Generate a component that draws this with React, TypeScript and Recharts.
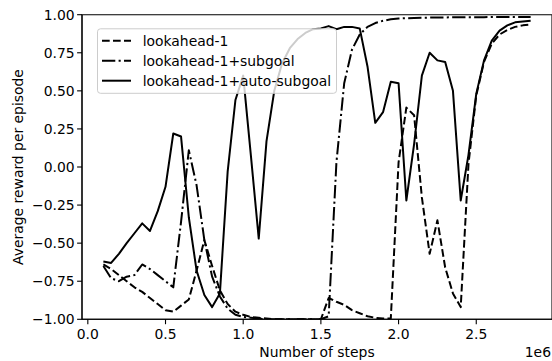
import React from 'react';
import { LineChart, Line, XAxis, YAxis, ReferenceArea } from 'recharts';

const steps = [
  0.10, 0.15, 0.20, 0.25, 0.30, 0.35, 0.40, 0.45, 0.50, 0.55,
  0.60, 0.65, 0.70, 0.75, 0.80, 0.85, 0.90, 0.95, 1.00, 1.05,
  1.10, 1.15, 1.20, 1.25, 1.30, 1.35, 1.40, 1.45, 1.50, 1.55,
  1.60, 1.65, 1.70, 1.75, 1.80, 1.85, 1.90, 1.95, 2.00, 2.05,
  2.10, 2.15, 2.20, 2.25, 2.30, 2.35, 2.40, 2.45, 2.50, 2.55,
  2.60, 2.65, 2.70, 2.75, 2.80, 2.85,
];

const lookahead = [
  -0.64, -0.67, -0.71, -0.75, -0.79, -0.82, -0.86, -0.90, -0.94, -0.95,
  -0.91, -0.87, -0.68, -0.48, -0.65, -0.81, -0.90, -0.95, -0.97, -0.985,
  -0.99, -0.995, -1.0, -1.0, -1.0, -1.0, -1.0, -1.0, -1.0, -0.86,
  -0.885, -0.905, -0.94, -0.96, -0.98, -0.99, -0.995, -0.995, 0.03, 0.39,
  0.34, -0.2, -0.57, -0.35, -0.66, -0.83, -0.92, 0.02, 0.47, 0.69,
  0.81, 0.87, 0.90, 0.92, 0.93, 0.935,
];

const subgoal = [
  -0.65, -0.73, -0.75, -0.72, -0.71, -0.64, -0.67, -0.71, -0.75, -0.79,
  -0.36, 0.11, -0.12, -0.48, -0.72, -0.85, -0.93, -0.97, -0.985, -0.99,
  -0.995, -1.0, -1.0, -1.0, -1.0, -1.0, -1.0, -1.0, -1.0, -0.98,
  0.03, 0.55, 0.77, 0.87, 0.92, 0.945, 0.96, 0.97, 0.975, 0.977,
  0.979, 0.98, 0.981, 0.982, 0.982, 0.983, 0.983, 0.984, 0.984, 0.984,
  0.985, 0.985, 0.985, 0.985, 0.985, 0.985,
];

const autoSubgoal = [
  -0.62, -0.63, -0.57, -0.50, -0.435, -0.37, -0.42, -0.29, -0.13, 0.22,
  0.20, -0.33, -0.68, -0.84, -0.92, -0.83, -0.03, 0.44, 0.60, 0.07,
  -0.47, 0.17, 0.50, 0.68, 0.78, 0.84, 0.88, 0.905, 0.91, 0.925,
  0.905, 0.92, 0.92, 0.91, 0.66, 0.29, 0.36, 0.56, 0.55, -0.22,
  0.15, 0.60, 0.75, 0.70, 0.69, 0.50, -0.22, 0.08, 0.48, 0.70,
  0.83, 0.895, 0.93, 0.95, 0.955, 0.96,
];

const seriesNames = ['lookahead-1', 'lookahead-1+subgoal', 'lookahead-1+auto-subgoal'];
const xTicks = [0, 0.5, 1.0, 1.5, 2.0, 2.5];
const yTicks = [-1, -0.75, -0.5, -0.25, 0, 0.25, 0.5, 0.75, 1];
const xLabel = 'Number of steps';
const yLabel = 'Average reward per episode';
const offsetLabel = '1e6';

const data = steps.map((s, i) => ({
  step: s,
  a: lookahead[i],
  b: subgoal[i],
  c: autoSubgoal[i],
}));

const FONT = '"DejaVu Sans", sans-serif';
const FS = 13.9;
const DASH = '7.7 3.3';
const DASHDOT = '13.3 3.3 2.1 3.3';

const fmtY = (v: number) => {
  const s = Math.abs(v).toFixed(2);
  return v < 0 ? '\u2212' + s : s;
};
const fmtX = (v: number) => v.toFixed(1);

const dashes = [DASH, DASHDOT, undefined];

export default function App() {
  return (
    <div style={{ position: 'absolute', left: 0, top: 0, width: 552, height: 361, background: '#fff' }}>
      <LineChart
        width={552}
        height={361}
        data={data}
        margin={{ top: 14.7, right: 0, left: 0, bottom: 0 }}
      >
        <XAxis
          dataKey="step"
          type="number"
          domain={[-0.0375, 2.9875]}
          ticks={xTicks}
          interval={0}
          tickFormatter={fmtX}
          height={41.7}
          tickSize={4.9}
          tickMargin={5}
          axisLine={{ stroke: '#000', strokeWidth: 1.1 }}
          tickLine={{ stroke: '#000', strokeWidth: 1.1 }}
          tick={{ fill: '#000', fontSize: FS, fontFamily: FONT }}
          allowDataOverflow
        />
        <YAxis
          type="number"
          domain={[-1, 1]}
          ticks={yTicks}
          interval={0}
          tickFormatter={fmtY}
          width={82}
          tickSize={4.9}
          tickMargin={2.5}
          axisLine={{ stroke: '#000', strokeWidth: 1.1 }}
          tickLine={{ stroke: '#000', strokeWidth: 1.1 }}
          tick={{ fill: '#000', fontSize: FS, fontFamily: FONT }}
          allowDataOverflow
        />
        <ReferenceArea
          x1={-0.0375}
          x2={2.9875}
          y1={-1}
          y2={1}
          fill="none"
          fillOpacity={0}
          stroke="#000"
          strokeWidth={1.1}
          ifOverflow="visible"
        />
        <Line
          dataKey="a"
          stroke="#000"
          strokeWidth={2}
          strokeDasharray={DASH}
          dot={false}
          isAnimationActive={false}
          strokeLinejoin="round"
        />
        <Line
          dataKey="b"
          stroke="#000"
          strokeWidth={2}
          strokeDasharray={DASHDOT}
          dot={false}
          isAnimationActive={false}
          strokeLinejoin="round"
        />
        <Line
          dataKey="c"
          stroke="#000"
          strokeWidth={2}
          dot={false}
          isAnimationActive={false}
          strokeLinejoin="round"
        />
      </LineChart>
      <svg
        width={552}
        height={361}
        style={{ position: 'absolute', left: 0, top: 0, pointerEvents: 'none' }}
      >
        <rect
          x={97.5}
          y={28.8}
          width={239}
          height={64.5}
          rx={3}
          ry={3}
          fill="#fff"
          fillOpacity={0.8}
          stroke="#ccc"
          strokeWidth={1}
        />
        {seriesNames.map((name, i) => {
          const y = 40.7 + i * 20;
          return (
            <g key={name}>
              <line
                x1={102}
                x2={131}
                y1={y}
                y2={y}
                stroke="#000"
                strokeWidth={2}
                strokeDasharray={dashes[i]}
              />
              <text
                x={142.7}
                y={y + 5}
                fontFamily={FONT}
                fontSize={FS}
                fill="#000"
              >
                {name}
              </text>
            </g>
          );
        })}
        <text x={317} y={357} textAnchor="middle" fontFamily={FONT} fontSize={FS} fill="#000">
          {xLabel}
        </text>
        <text x={551} y={356.5} textAnchor="end" fontFamily={FONT} fontSize={FS} fill="#000">
          {offsetLabel}
        </text>
        <text
          x={0}
          y={0}
          transform="translate(22.5,167) rotate(-90)"
          textAnchor="middle"
          fontFamily={FONT}
          fontSize={FS}
          fill="#000"
        >
          {yLabel}
        </text>
      </svg>
    </div>
  );
}
